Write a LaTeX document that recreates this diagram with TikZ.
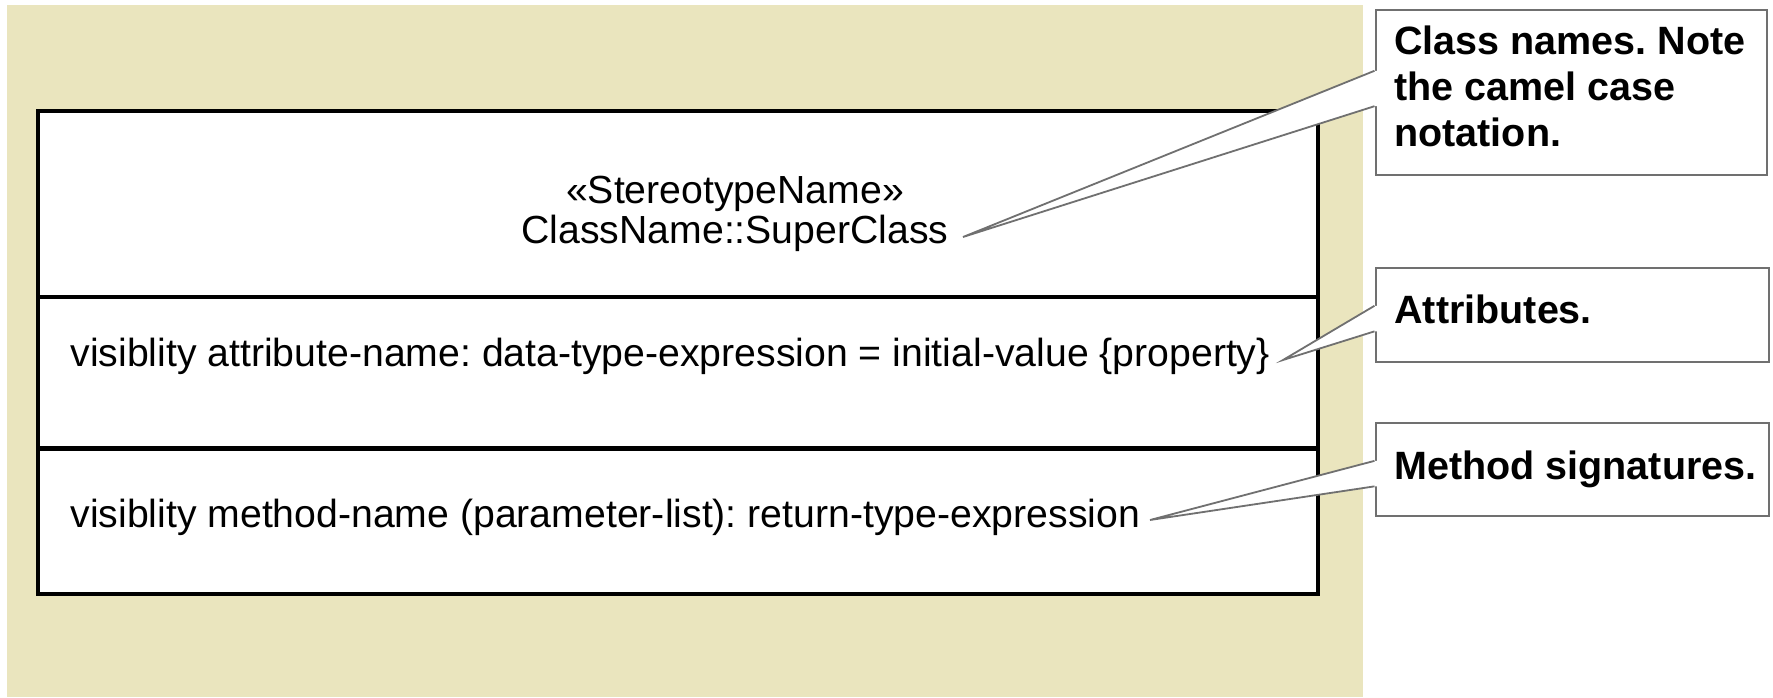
\documentclass[tikz,border=0pt]{standalone}
\usepackage{fontspec}
\setmainfont{Liberation Sans}
\usetikzlibrary{calc}
\frenchspacing

\definecolor{panel}{RGB}{234,229,190}
\definecolor{notegray}{RGB}{112,112,112}

\tikzset{
  classframe/.style={draw=black, line width=2.2pt, fill=white},
  divider/.style={draw=black, line width=2.2pt},
  umltext/.style={font=\fontsize{19.6pt}{19.75pt}\selectfont, inner sep=0pt},
  notebox/.style={draw=notegray, line width=1pt, fill=white, inner sep=0pt, anchor=north west},
  notetext/.style={font=\fontsize{19.75pt}{23.1pt}\selectfont\bfseries, inner sep=0pt, anchor=base west},
  wedgeline/.style={draw=notegray, line width=0.9pt, line join=miter},
}

\begin{document}
\begin{tikzpicture}[x=0.5pt, y=-0.5pt]
\useasboundingbox (0,0) rectangle (1773,697);

% beige panel behind the class
\fill[panel] (7,5) rectangle (1363,697);

% class symbol with its three compartments
\draw[classframe] (38,111) rectangle (1318,594);
\draw[divider] (38,297) -- (1318,297);
\draw[divider] (38,448.5) -- (1318,448.5);

\node[umltext, anchor=base] (cname) at (735,203.5)
  {\begin{tabular}[t]{@{}c@{}}«StereotypeName»\\ClassName::SuperClass\end{tabular}};
\node[umltext, anchor=base west] (attr) at (70,366)
  {visiblity attribute-name: data-type-expression = initial-value \{property\}};
\node[umltext, anchor=base west] (meth) at (70,527)
  {visiblity method-name (parameter-list): return-type-expression};

% note boxes
\node[notebox, minimum width=195.75pt, minimum height=82.5pt] (n1) at (1374.5,8.5) {};
\node[notebox, minimum width=196.75pt, minimum height=47.25pt] (n2) at (1374.5,266.5) {};
\node[notebox, minimum width=196.75pt, minimum height=46.75pt] (n3) at (1374.5,421.5) {};

\node[notetext] (l1) at (1394,54.5)
  {\begin{tabular}[t]{@{}l@{}}Class names. Note\\the camel case\\notation.\end{tabular}};
\node[notetext] (l2) at (1394,323.5) {Attributes.};
\node[notetext] (l3) at (1394,479.5) {Method signatures.};

% tips of the pointers
\coordinate (t1) at (963,237);
\coordinate (t2) at (1283,360);
\coordinate (t3) at (1150,520);

% openings on the left side of each note
\coordinate (n1a) at ($(n1.north west)!0.373!(n1.south west)$);
\coordinate (n1b) at ($(n1.north west)!0.585!(n1.south west)$);
\coordinate (n2a) at ($(n2.north west)!0.407!(n2.south west)$);
\coordinate (n2b) at ($(n2.north west)!0.672!(n2.south west)$);
\coordinate (n3a) at ($(n3.north west)!0.412!(n3.south west)$);
\coordinate (n3b) at ($(n3.north west)!0.679!(n3.south west)$);

% wedge-shaped pointers from the notes
\foreach \n/\t in {n1/t1, n2/t2, n3/t3} {
  \fill[white] (\n a) -- (\t) -- (\n b) -- ([xshift=1.5pt]\n b) -- ([xshift=1.5pt]\n a) -- cycle;
  \draw[wedgeline] (\n a) -- (\t) -- (\n b);
}
\end{tikzpicture}
\end{document}
